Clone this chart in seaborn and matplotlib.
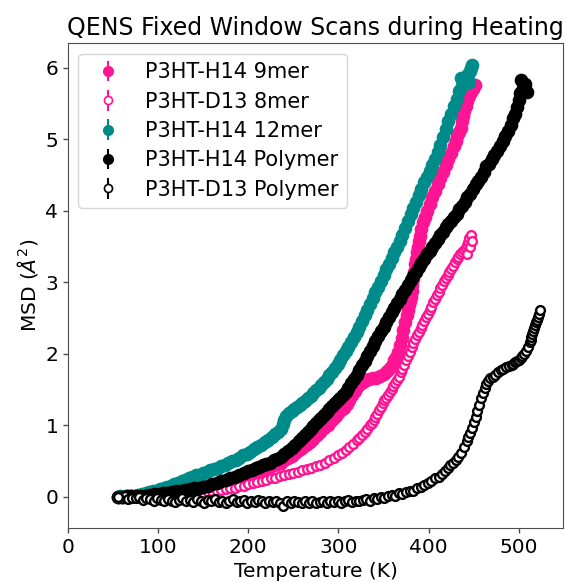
import matplotlib
matplotlib.use("Agg")
import matplotlib.pyplot as plt
import seaborn as sns

# ---------------- data ----------------
labels = ["P3HT-H14 9mer", "P3HT-D13 8mer", "P3HT-H14 12mer",
          "P3HT-H14 Polymer", "P3HT-D13 Polymer"]
colors = ["#FF1493", "#FF1493", "#008B8B", "#000000", "#000000"]
filled = [True, False, True, True, False]

t_9mer = [55, 60, 65, 70, 75, 80, 85, 90, 95, 100,
          105, 110, 115, 120, 125, 130, 135, 140, 145, 150,
          155, 160, 165, 170, 175, 180, 185, 190, 195, 200,
          204, 208, 212, 216, 220, 224, 228, 232, 236, 240,
          244, 248, 252, 256, 260, 264, 268, 272, 276, 280,
          284, 288, 291, 294, 297, 300, 303, 306, 309, 312,
          315, 318, 321, 324, 327, 330, 334, 338, 342, 346,
          350, 354, 357, 360, 362, 364, 366, 368, 370, 372,
          374, 376, 377, 378, 379, 380, 381, 382, 383, 384,
          385, 386, 387, 388, 389, 390, 392, 394, 396, 398,
          401, 404, 407, 410, 413, 416, 419, 422, 425, 428,
          430, 432, 434, 436, 437, 438, 439, 441, 443, 445,
          447, 449, 451]
msd_9mer = [0.00, 0.00, 0.00, 0.01, 0.01, 0.01, 0.02, 0.02, 0.03, 0.03,
            0.04, 0.05, 0.06, 0.07, 0.08, 0.09, 0.10, 0.11, 0.12, 0.13,
            0.15, 0.16, 0.17, 0.19, 0.20, 0.22, 0.24, 0.26, 0.28, 0.30,
            0.32, 0.34, 0.36, 0.38, 0.40, 0.42, 0.44, 0.46, 0.48, 0.51,
            0.54, 0.57, 0.61, 0.65, 0.69, 0.73, 0.77, 0.81, 0.86, 0.91,
            0.96, 1.01, 1.05, 1.09, 1.13, 1.17, 1.21, 1.25, 1.30, 1.36,
            1.42, 1.48, 1.54, 1.58, 1.61, 1.63, 1.65, 1.66, 1.67, 1.69,
            1.72, 1.76, 1.80, 1.86, 1.91, 1.96, 2.03, 2.12, 2.22, 2.33,
            2.44, 2.55, 2.61, 2.68, 2.74, 2.80, 2.88, 2.96, 3.05, 3.14,
            3.25, 3.33, 3.42, 3.50, 3.58, 3.65, 3.75, 3.84, 3.92, 4.00,
            4.10, 4.19, 4.28, 4.37, 4.46, 4.55, 4.64, 4.72, 4.81, 4.90,
            4.97, 5.04, 5.10, 5.16, 5.25, 5.32, 5.40, 5.47, 5.53, 5.60,
            5.66, 5.70, 5.76]

t_8mer = [55, 60, 65, 70, 75, 80, 85, 90, 95, 100,
          105, 110, 115, 120, 125, 130, 135, 140, 145, 150,
          155, 160, 165, 170, 175, 180, 185, 190, 195, 200,
          205, 210, 215, 220, 225, 230, 235, 240, 245, 250,
          255, 260, 265, 270, 275, 280, 285, 290, 295, 300,
          304, 308, 312, 316, 320, 323, 326, 329, 332, 335,
          337, 339, 341, 343, 345, 347, 349, 351, 353, 355,
          357, 359, 361, 363, 365, 367, 369, 371, 373, 375,
          377, 379, 381, 383, 385, 387, 389, 391, 393, 395,
          397, 399, 401, 403, 405, 407, 409, 411, 413, 415,
          417, 419, 421, 423, 425, 427, 429, 431, 433, 435,
          437, 439, 441, 442, 443, 444, 445, 446, 447, 448]
msd_8mer = [0.00, 0.00, -0.01, -0.01, 0.00, -0.01, -0.01, 0.00, -0.01, 0.00,
            0.00, 0.01, 0.01, 0.02, 0.02, 0.03, 0.03, 0.04, 0.05, 0.06,
            0.07, 0.08, 0.09, 0.10, 0.11, 0.12, 0.13, 0.15, 0.16, 0.18,
            0.19, 0.21, 0.22, 0.24, 0.26, 0.27, 0.29, 0.30, 0.32, 0.34,
            0.35, 0.37, 0.39, 0.41, 0.43, 0.45, 0.48, 0.51, 0.55, 0.59,
            0.62, 0.66, 0.70, 0.74, 0.79, 0.83, 0.87, 0.91, 0.95, 1.00,
            1.04, 1.08, 1.12, 1.16, 1.21, 1.26, 1.31, 1.35, 1.39, 1.43,
            1.47, 1.51, 1.55, 1.59, 1.63, 1.68, 1.74, 1.79, 1.85, 1.91,
            1.97, 2.03, 2.09, 2.15, 2.21, 2.26, 2.31, 2.36, 2.41, 2.46,
            2.51, 2.56, 2.61, 2.66, 2.72, 2.77, 2.82, 2.87, 2.92, 2.97,
            3.02, 3.06, 3.10, 3.14, 3.18, 3.23, 3.28, 3.32, 3.36, 3.39,
            3.42, 3.45, 3.48, 3.40, 3.52, 3.56, 3.62, 3.50, 3.66, 3.58]

t_12mer = [55, 58, 61, 64, 67, 70, 74, 78, 82, 86,
           90, 94, 98, 102, 106, 110, 114, 118, 122, 126,
           130, 134, 138, 142, 146, 150, 154, 158, 162, 166,
           170, 174, 178, 182, 186, 190, 194, 198, 202, 206,
           210, 214, 218, 222, 226, 230, 233, 236, 238, 240,
           242, 245, 248, 251, 254, 257, 260, 263, 266, 269,
           272, 275, 278, 281, 284, 287, 290, 293, 296, 299,
           302, 305, 308, 311, 314, 317, 320, 323, 326, 329,
           332, 335, 338, 341, 344, 347, 350, 353, 356, 359,
           362, 365, 368, 371, 374, 377, 380, 383, 386, 389,
           392, 395, 398, 401, 404, 407, 410, 413, 416, 419,
           422, 425, 428, 431, 434, 436, 437, 440, 442, 444,
           445, 446, 447, 448]
msd_12mer = [0.00, 0.01, 0.00, 0.01, 0.01, 0.02, 0.02, 0.03, 0.04, 0.05,
             0.07, 0.08, 0.09, 0.11, 0.13, 0.14, 0.16, 0.18, 0.20, 0.22,
             0.24, 0.26, 0.28, 0.30, 0.31, 0.33, 0.35, 0.37, 0.39, 0.41,
             0.43, 0.45, 0.47, 0.50, 0.52, 0.55, 0.58, 0.60, 0.63, 0.67,
             0.70, 0.73, 0.77, 0.80, 0.84, 0.88, 0.91, 0.95, 1.02, 1.08,
             1.13, 1.17, 1.20, 1.23, 1.26, 1.29, 1.31, 1.34, 1.38, 1.41,
             1.45, 1.49, 1.53, 1.57, 1.61, 1.65, 1.70, 1.75, 1.80, 1.86,
             1.92, 1.98, 2.04, 2.10, 2.17, 2.24, 2.31, 2.38, 2.46, 2.54,
             2.62, 2.70, 2.78, 2.86, 2.94, 3.02, 3.10, 3.18, 3.26, 3.34,
             3.42, 3.50, 3.58, 3.66, 3.76, 3.86, 3.95, 4.04, 4.13, 4.22,
             4.31, 4.40, 4.48, 4.56, 4.64, 4.72, 4.82, 4.92, 5.03, 5.14,
             5.25, 5.36, 5.47, 5.57, 5.67, 5.86, 5.74, 5.80, 5.86, 5.92,
             5.80, 5.96, 6.00, 6.04]

t_h_poly = [55, 60, 65, 70, 75, 80, 85, 90, 95, 100,
            105, 110, 115, 120, 125, 130, 135, 140, 145, 150,
            155, 160, 165, 170, 175, 180, 185, 190, 195, 200,
            204, 208, 212, 216, 220, 224, 228, 232, 236, 240,
            244, 248, 252, 256, 260, 263, 266, 269, 272, 275,
            278, 281, 284, 287, 290, 293, 296, 299, 302, 305,
            308, 311, 314, 317, 320, 323, 326, 329, 332, 335,
            338, 341, 344, 347, 350, 353, 356, 359, 362, 365,
            368, 371, 374, 377, 380, 383, 386, 389, 392, 395,
            398, 401, 404, 407, 410, 413, 416, 419, 422, 425,
            428, 431, 434, 437, 440, 443, 446, 449, 452, 455,
            458, 461, 464, 467, 470, 473, 476, 479, 482, 485,
            488, 491, 494, 496, 498, 500, 501, 503, 505, 507,
            509]
msd_h_poly = [0.00, 0.00, 0.01, 0.01, 0.01, 0.02, 0.02, 0.03, 0.04, 0.04,
              0.05, 0.06, 0.07, 0.08, 0.09, 0.10, 0.11, 0.12, 0.13, 0.14,
              0.16, 0.18, 0.20, 0.22, 0.24, 0.26, 0.28, 0.31, 0.33, 0.36,
              0.38, 0.40, 0.42, 0.44, 0.46, 0.48, 0.51, 0.53, 0.56, 0.60,
              0.64, 0.69, 0.73, 0.78, 0.83, 0.87, 0.91, 0.95, 0.99, 1.03,
              1.07, 1.11, 1.15, 1.19, 1.23, 1.27, 1.31, 1.35, 1.39, 1.43,
              1.47, 1.53, 1.59, 1.65, 1.70, 1.77, 1.84, 1.90, 1.97, 2.04,
              2.11, 2.18, 2.25, 2.32, 2.38, 2.45, 2.52, 2.58, 2.64, 2.71,
              2.77, 2.84, 2.90, 2.97, 3.03, 3.09, 3.15, 3.21, 3.27, 3.33,
              3.39, 3.44, 3.50, 3.55, 3.61, 3.66, 3.71, 3.77, 3.82, 3.86,
              3.91, 3.96, 4.02, 4.07, 4.13, 4.19, 4.24, 4.30, 4.37, 4.42,
              4.48, 4.55, 4.62, 4.66, 4.72, 4.78, 4.84, 4.91, 4.97, 5.04,
              5.12, 5.20, 5.30, 5.36, 5.45, 5.55, 5.65, 5.83, 5.72, 5.78,
              5.66]

t_d_poly = [55, 59, 63, 67, 71, 75, 79, 83, 87, 91,
            95, 99, 103, 107, 111, 115, 119, 123, 127, 131,
            135, 139, 143, 147, 151, 155, 159, 163, 167, 171,
            175, 179, 183, 187, 191, 195, 199, 203, 207, 211,
            215, 219, 223, 227, 231, 235, 239, 243, 247, 251,
            255, 259, 263, 267, 271, 275, 279, 283, 287, 291,
            295, 299, 303, 307, 311, 315, 319, 323, 327, 331,
            335, 339, 343, 347, 351, 355, 359, 363, 367, 371,
            375, 379, 383, 387, 391, 395, 399, 403, 407, 411,
            415, 418, 421, 424, 427, 430, 433, 436, 439, 442,
            444, 446, 448, 450, 452, 454, 456, 458, 460, 462,
            464, 466, 468, 471, 474, 477, 480, 483, 486, 489,
            492, 494, 496, 498, 500, 502, 504, 506, 508, 510,
            512, 513, 514, 515, 516, 517, 518, 519, 520, 521,
            522, 523]
msd_d_poly = [0.00, -0.02, 0.01, -0.03, -0.01, -0.02, 0.00, -0.04, -0.02, -0.03,
              -0.05, -0.02, -0.04, -0.06, -0.03, -0.05, -0.07, -0.04, -0.02, -0.06,
              -0.04, -0.07, -0.03, -0.05, -0.08, -0.04, -0.06, -0.03, -0.07, -0.05,
              -0.08, -0.05, -0.03, -0.07, -0.06, -0.04, -0.08, -0.05, -0.07, -0.04,
              -0.06, -0.08, -0.05, -0.07, -0.06, -0.09, -0.12, -0.06, -0.08, -0.05,
              -0.07, -0.09, -0.06, -0.08, -0.05, -0.09, -0.07, -0.06, -0.08, -0.06,
              -0.07, -0.05, -0.08, -0.06, -0.04, -0.07, -0.05, -0.06, -0.04, -0.03,
              -0.05, -0.02, -0.03, 0.00, -0.02, 0.01, 0.03, 0.02, 0.05, 0.04,
              0.07, 0.09, 0.08, 0.12, 0.14, 0.17, 0.19, 0.22, 0.26, 0.28,
              0.32, 0.36, 0.40, 0.44, 0.47, 0.51, 0.56, 0.62, 0.70, 0.78,
              0.84, 0.90, 0.97, 1.05, 1.12, 1.20, 1.29, 1.38, 1.46, 1.53,
              1.58, 1.62, 1.66, 1.68, 1.71, 1.74, 1.77, 1.79, 1.81, 1.83,
              1.85, 1.86, 1.88, 1.90, 1.92, 1.94, 1.97, 2.00, 2.04, 2.10,
              2.17, 2.20, 2.24, 2.28, 2.32, 2.36, 2.40, 2.44, 2.48, 2.52,
              2.56, 2.62]

x_ticks = [0, 100, 200, 300, 400, 500]
y_ticks = [0, 1, 2, 3, 4, 5, 6]

# ---------------- styling ----------------
sns.set_style("ticks", rc={"axes.edgecolor": "0.3", "axes.linewidth": 1.0,
                           "xtick.color": "0.3", "ytick.color": "0.3"})
plt.rcParams.update({
    "font.family": ["DejaVu Sans"],
    "mathtext.fontset": "dejavusans",
    "text.color": "black",
    "axes.labelcolor": "black",
    "xtick.labelcolor": "black",
    "ytick.labelcolor": "black",
    "xtick.major.size": 3.5,
    "ytick.major.size": 3.5,
    "xtick.major.width": 1.0,
    "ytick.major.width": 1.0,
})

FS = 14.5

fig = plt.figure(figsize=(5.67, 5.82), dpi=100)
ax = fig.add_axes([0.1199, 0.0928, 0.8730, 0.8325])

series_t = [t_9mer, t_8mer, t_12mer, t_h_poly, t_d_poly]
series_m = [msd_9mer, msd_8mer, msd_12mer, msd_h_poly, msd_d_poly]

for lab, T, M, c, f in zip(labels, series_t, series_m, colors, filled):
    if f:
        sns.scatterplot(x=T, y=M, ax=ax, color=c, edgecolor=c, s=78,
                        linewidth=1.0, legend=False)
        ax.errorbar([T[0]], [M[0]], yerr=[0.0], fmt="o", color=c,
                    mfc=c, mec=c, ms=7.0, mew=1.0, elinewidth=1.5,
                    label=lab)
    else:
        sns.scatterplot(x=T, y=M, ax=ax, color="white", edgecolor=c, s=40,
                        linewidth=1.7, legend=False)
        ax.errorbar([T[0]], [M[0]], yerr=[0.0], fmt="o", color=c,
                    mfc="white", mec=c, ms=5.8, mew=1.2, elinewidth=1.5,
                    label=lab)

ax.set_xlim(0, 549)
ax.set_ylim(-0.434, 6.34)
ax.set_xticks(x_ticks)
ax.set_yticks(y_ticks)
ax.tick_params(labelsize=FS)
ax.set_xlabel("Temperature (K)", fontsize=FS)
ax.set_ylabel(r"MSD ($\AA^2$)", fontsize=FS)
ax.set_title("QENS Fixed Window Scans during Heating", fontsize=17)
for s in ax.spines.values():
    s.set_visible(True)

ax.legend(loc="upper left", fontsize=15, labelspacing=0.45, frameon=True)

fig.savefig("out.png", dpi=100)
